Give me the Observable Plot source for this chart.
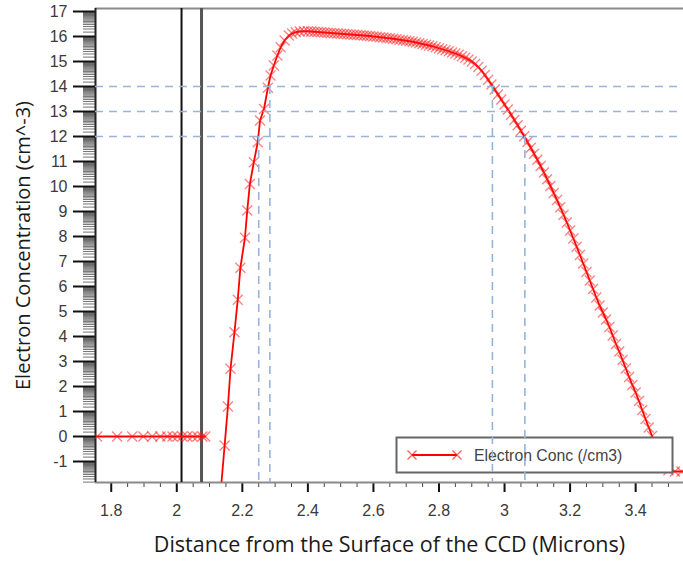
<!DOCTYPE html>
<html>
<head>
<meta charset="utf-8">
<script src="https://cdn.jsdelivr.net/npm/d3@7"></script>
<script src="https://cdn.jsdelivr.net/npm/@observablehq/plot@0.6"></script>
<style>
  html, body { margin: 0; padding: 0; background: #ffffff; }
  #chart { width: 683px; height: 570px; overflow: hidden; }
</style>
</head>
<body>
<div id="chart"></div>
<script>
// ---- data ----
const xTicks = [1.8, 2, 2.2, 2.4, 2.6, 2.8, 3, 3.2, 3.4];
const yTicks = [-1, 0, 1, 2, 3, 4, 5, 6, 7, 8, 9, 10, 11, 12, 13, 14, 15, 16, 17];
const xDomain = [1.752, 3.546];
const yDomain = [-1.84, 17.12];

// flat segment at zero (left region)
const flatX = [1.757, 1.818, 1.864, 1.898, 1.925, 1.950, 1.971, 1.987, 2.002, 2.017, 2.032, 2.048, 2.063, 2.078, 2.087];
const flatY = [0, 0, 0, 0, 0, 0, 0, 0, 0, 0, 0, 0, 0, 0, 0];

// main profile: rise, plateau, fall
const curveX = [
  2.132, 2.146, 2.156, 2.164, 2.176, 2.186, 2.194, 2.208, 2.215, 2.223, 2.235,
  2.247, 2.254, 2.266, 2.278, 2.286, 2.296, 2.307, 2.317, 2.329, 2.342, 2.352, 2.363, 2.375, 2.388,
  2.40, 2.41, 2.42, 2.43, 2.44, 2.45, 2.46, 2.47, 2.48, 2.49, 2.50, 2.51, 2.52, 2.53, 2.54, 2.55,
  2.56, 2.57, 2.58, 2.59, 2.60, 2.61, 2.62, 2.63, 2.64, 2.65, 2.66, 2.67, 2.68, 2.69, 2.70,
  2.71, 2.72, 2.73, 2.74, 2.75, 2.76, 2.77, 2.78, 2.79, 2.80, 2.81, 2.82, 2.83, 2.84, 2.85,
  2.86, 2.87, 2.88, 2.89, 2.90, 2.91, 2.92, 2.93, 2.94, 2.95, 2.96, 2.97, 2.98, 2.99, 3.00,
  3.01, 3.02, 3.03, 3.04, 3.05, 3.06, 3.07, 3.08, 3.09, 3.10, 3.11, 3.12, 3.13, 3.14, 3.15,
  3.16, 3.17, 3.18, 3.19, 3.20, 3.21, 3.22, 3.23, 3.24, 3.25, 3.26, 3.27, 3.28, 3.29, 3.30,
  3.31, 3.32, 3.33, 3.34, 3.35, 3.36, 3.37, 3.38, 3.39, 3.40, 3.41, 3.42, 3.43, 3.44, 3.45,
  3.46, 3.48, 3.50, 3.52, 3.54, 3.56
];
const curveY = [
  -2.5, -0.36, 1.2, 2.71, 4.17, 5.47, 6.75, 7.95, 9.04, 10.1, 10.97,
  11.77, 12.64, 13.1, 13.95, 14.44, 14.84, 15.24, 15.57, 15.84, 16.04, 16.12, 16.17, 16.2, 16.21,
  16.21, 16.2, 16.19, 16.18, 16.17, 16.16, 16.15, 16.14, 16.13, 16.12, 16.11, 16.1, 16.09, 16.08, 16.07, 16.06,
  16.05, 16.04, 16.03, 16.02, 16.0, 15.99, 15.97, 15.96, 15.94, 15.93, 15.91, 15.89, 15.87, 15.85, 15.83,
  15.81, 15.79, 15.76, 15.73, 15.7, 15.67, 15.64, 15.61, 15.57, 15.53, 15.49, 15.45, 15.41, 15.36, 15.32,
  15.27, 15.21, 15.15, 15.08, 15.0, 14.9, 14.78, 14.63, 14.46, 14.27, 14.08, 13.88, 13.68, 13.48, 13.28,
  13.08, 12.87, 12.66, 12.45, 12.23, 12.01, 11.78, 11.55, 11.31, 11.07, 10.82, 10.56, 10.29, 10.02, 9.74,
  9.46, 9.17, 8.87, 8.56, 8.24, 7.92, 7.59, 7.26, 6.92, 6.58, 6.24, 5.9, 5.56, 5.24, 4.96,
  4.68, 4.38, 4.04, 3.7, 3.4, 3.06, 2.72, 2.38, 2.06, 1.76, 1.42, 1.06, 0.7, 0.36, 0.02,
  -0.35, -1.0, -1.35, -1.4, -1.4, -1.4
];

// reference lines
const solidLinesX = [2.0145, 2.0755];
const solidLineColors = ["#111111", "#555555"];
const solidLineWidths = [2, 3];
const dashLevels = [12, 13, 14];
const crossX = [2.250, 2.284, 2.963, 3.062];
const crossY = [12, 14, 14, 12];

const seriesName = "Electron Conc (/cm3)";
const xTitle = "Distance from the Surface of the CCD (Microns)";
const yTitle = "Electron Concentration (cm^-3)";

// ---- build tables ----
const data = [
  ...flatX.map((x, i) => ({x, y: flatY[i], seg: "a"})),
  ...curveX.map((x, i) => ({x, y: curveY[i], seg: "b"}))
];
const solidRules = solidLinesX.map((x, i) => ({x, c: solidLineColors[i], w: solidLineWidths[i]}));
const crossRules = crossX.map((x, i) => ({x, y: crossY[i]}));

const xMinor = d3.range(35, 71).map(k => k / 20).filter(v => v >= xDomain[0] && v <= xDomain[1] && Math.abs(v * 5 - Math.round(v * 5)) > 1e-6);
const yMinor = [];
for (let k = -2; k <= 17; k++) {
  for (let m = 1.5; m < 10; m += 0.5) {
    const v = k + Math.log10(m);
    if (v > yDomain[0] && v < yDomain[1]) yMinor.push(v);
  }
}

const fmt = d => String(+d.toFixed(1));

const plot = Plot.plot({
  width: 683,
  height: 570,
  marginLeft: 95,
  marginRight: 0,
  marginTop: 8,
  marginBottom: 88,
  style: { fontFamily: "'Liberation Sans', Arial, sans-serif", fontSize: "16px", color: "#3a3a3a", background: "#ffffff", overflow: "hidden" },
  x: { domain: xDomain, label: null },
  y: { domain: yDomain, label: null },
  marks: [
    // minor y ticks
    Plot.axisY({ ticks: yMinor, tickSize: 12, tickFormat: () => "", label: null, stroke: "#444", strokeOpacity: 0.75, strokeWidth: 1 }),
    // major y ticks
    Plot.axisY({ ticks: yTicks, tickSize: 22, tickPadding: 6, tickFormat: fmt, label: null, stroke: "#111", strokeWidth: 2, fill: "#3a3a3a", fontSize: 16 }),
    // x ticks
    Plot.axisX({ ticks: xMinor, tickSize: 5, tickFormat: () => "", label: null, stroke: "#444", strokeWidth: 1 }),
    Plot.axisX({ ticks: xTicks, tickSize: 10, tickPadding: 12, tickFormat: fmt, label: null, stroke: "#111", strokeWidth: 2, fill: "#3a3a3a", fontSize: 16 }),
    // frame lines
    Plot.ruleY([yDomain[1]], { stroke: "#8a8a8a", strokeWidth: 2 }),
    Plot.ruleY([yDomain[0]], { stroke: "#8a8a8a", strokeWidth: 2 }),
    Plot.ruleX([xDomain[0]], { stroke: "#222", strokeWidth: 2 }),
    // solid vertical lines
    Plot.ruleX(solidRules, { x: "x", stroke: "c", strokeWidth: "w" }),
    // curve
    Plot.line(data, { x: "x", y: "y", z: "seg", stroke: "#ff0000", strokeWidth: 1.8, clip: true }),
    Plot.dot(data, { x: "x", y: "y", symbol: "times", r: 4.6, stroke: "#ff1a1a", strokeOpacity: 0.55, strokeWidth: 1.3, clip: true }),
    // axis titles
    Plot.text([xTitle], { frameAnchor: "bottom", dy: 69, text: d => d, fontFamily: "'Open Sans', sans-serif", fontSize: 21.5, fill: "#1a1a1a" }),
    Plot.text([yTitle], { frameAnchor: "left", dx: -72, rotate: -90, textAnchor: "middle", text: d => d, fontFamily: "'Open Sans', sans-serif", fontSize: 20, fill: "#1a1a1a" }),
    // dashed reference lines (kept last)
    Plot.ruleX(crossRules, { x: "x", y1: "y", y2: yDomain[0], stroke: "#98b4da", strokeWidth: 1.6, strokeDasharray: "8,6" }),
    Plot.ruleY(dashLevels, { stroke: "#98b4da", strokeWidth: 1.6, strokeDasharray: "8,6" })
  ]
});

// make sure tick labels use the intended size
plot.querySelectorAll('g[aria-label$="tick label"] text').forEach(t => {
  t.style.fontSize = "16px";
  t.style.fontFamily = "'Liberation Sans', Arial, sans-serif";
});

// legend (transparent to dashed lines, hides curve beneath)
const ns = "http://www.w3.org/2000/svg";
const lg = document.createElementNS(ns, "g");
lg.innerHTML = `
  <rect x="396.5" y="437.5" width="276" height="35" fill="#ffffff" stroke="#666" stroke-width="2"></rect>
  <line x1="412" y1="455" x2="457" y2="455" stroke="#ff0000" stroke-width="2"></line>
  <path d="M407.5,450.5L416.5,459.5M416.5,450.5L407.5,459.5M452.5,450.5L461.5,459.5M461.5,450.5L452.5,459.5" stroke="#ff1a1a" stroke-opacity="0.7" stroke-width="1.4" fill="none"></path>
  <text x="474" y="455" dy="0.35em" text-anchor="start" font-family="'Liberation Sans', Arial, sans-serif" font-size="15.8" fill="#444">${seriesName}</text>`;
const kids = plot.children;
plot.insertBefore(lg, kids[kids.length - 2]);

document.getElementById("chart").appendChild(plot);
</script>
</body>
</html>
